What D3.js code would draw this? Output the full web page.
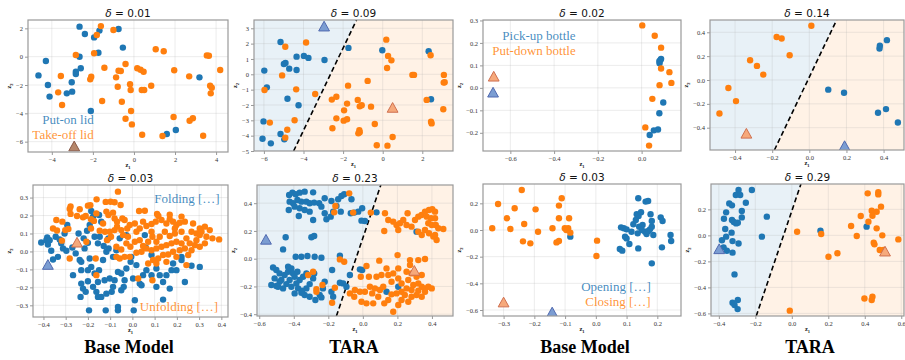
<!DOCTYPE html>
<html><head><meta charset="utf-8">
<script src="https://cdn.jsdelivr.net/npm/d3@7"></script>
<style>body{margin:0;background:#fff}</style>
</head><body><svg id="c" width="905" height="360"></svg>
<script>
// ---------------- DATA ----------------
const deltas = ["0.01", "0.09", "0.02", "0.14", "0.03", "0.23", "0.03", "0.29"];
const captions = ["Base Model", "TARA", "Base Model", "TARA"];

const p1XTicks = [-4, -2, 0, 2, 4];
const p1YTicks = [-6, -4, -2, 0, 2];
const p1Blue = [[-2.65,2.12],[-2.39,1.6],[-1.68,1.84],[-1.94,1.36],[-0.75,1.95],[-0.54,0.64],[-1.73,0.28],[-2.65,0],[-4.29,-0.31],[-2.59,-0.82],[-2.83,-1.06],[-2.83,-1.22],[-4.65,-1.32],[-4.19,-2.0],[-3.03,-1.81],[-4.11,-2.82],[-3.27,-2.59],[-3.01,-2.47],[-2.1,-3.84],[3.19,-1.46],[2.04,-5.18],[1.6,-5.46]];
const p1Orange = [[-1.61,2.16],[-1.81,1.53],[-1.0,1.88],[-2.83,0.12],[-1.94,0.24],[1.06,0.52],[1.45,0.38],[3.55,0.09],[3.65,0.07],[4.2,-0.94],[-0.41,-0.52],[-1.44,-0.78],[-0.75,-0.99],[-0.64,-1.01],[0.16,-0.82],[0.32,-0.92],[0.47,-1.06],[1.96,-0.96],[-3.56,-1.36],[-2.08,-1.41],[-2.13,-1.6],[-0.87,-1.46],[2.69,-1.39],[-0.19,-1.95],[-3.69,-2.52],[-0.79,-2.12],[-0.16,-2.35],[0.38,-2.35],[0.5,-2.35],[0.84,-2.05],[3.71,-2.05],[3.79,-2.19],[3.74,-2.59],[-3.5,-3.41],[-1.55,-3.13],[-0.59,-3.18],[-0.14,-3.84],[-0.41,-4.38],[-0.1,-4.78],[1.93,-4.26],[2.87,-4.35],[2.71,-4.52],[0.4,-5.51],[1.39,-5.6],[3.37,-5.58]];
const p1Protos = [[-2.91,-6.35,"mix"]];

const p2XTicks = [-6, -4, -2, 0, 2];
const p2YTicks = [-5, -4, -3, -2, -1, 0, 1, 2, 3];
const p2Blue = [[-5.16,2.11],[-4.91,0.74],[-4.99,0.67],[-4.72,0.37],[-4.35,1.15],[-3.98,1.2],[-3.75,1.07],[-4.35,0.28],[-2.94,0.93],[-5.98,0.24],[-5.85,-0.85],[-4.81,-1.59],[-4.25,-2.02],[-6.02,-3.07],[-5.16,-3.89],[-6.07,-4.2],[-5.65,-4.5],[-4.97,-4.24],[-1.73,1.72],[-0.02,1.57],[2.32,1.5],[2.44,-1.63]];
const p2Orange = [[-4.92,1.8],[-3.87,2.07],[-5.08,-0.07],[-5.97,-1.02],[-4.37,-0.98],[-5.7,-3.15],[-3.41,-1.28],[-4.45,-3.0],[-4.82,-3.61],[-4.92,-4.13],[0.18,2.26],[0.27,1.2],[0.44,0.91],[0.22,0.41],[-0.76,-0.43],[-1.75,-0.74],[-2.57,-1.65],[-2.34,-1.46],[-1.8,-1.91],[-1.26,-1.67],[-1.16,-2.09],[-1.06,-2.02],[-0.59,-2.11],[-1.95,-2.35],[-2.34,-2.87],[-1.97,-3.02],[-1.8,-2.93],[-2.54,-3.52],[-0.4,-3.24],[-1.18,-3.65],[-1.16,-3.78],[-1.23,-3.85],[-0.3,-4.63],[0.24,-4.65],[0.5,-4.09],[1.5,-0.04],[1.58,-0.04],[2.42,1.24],[2.22,-1.67],[3.09,-0.04],[3.08,-0.54],[3.13,-0.52],[3.06,-2.28],[2.44,-3.09],[2.47,-3.2]];
const p2Protos = [[-2.96,3.1,"blue"],[0.5,-2.2,"orange"]];
const p2Boundary = [[-4.5,-5.0],[-1.32,3.54]];

const p3XTicks = [-0.6, -0.4, -0.2, 0.0];
const p3YTicks = [-0.2, -0.1, 0.0, 0.1, 0.2, 0.3];
const p3Blue = [[0.089,0.129],[0.081,0.119],[0.082,0.109],[0.086,0.124],[0.099,-0.065],[0.081,-0.113],[0.075,-0.185],[0.056,-0.189],[0.037,-0.21]];
const p3Orange = [[0.003,0.278],[0.06,0.232],[0.089,0.179],[0.089,0.086],[0.127,0.07],[0.136,0.022],[0.082,0.012],[0.049,-0.049],[0.017,-0.176],[0.034,-0.257]];
const p3Protos = [[-0.676,0.049,"orange"],[-0.679,-0.022,"blue"]];

const p4XTicks = [-0.4, -0.2, 0.0, 0.2, 0.4];
const p4YTicks = [-0.4, -0.2, 0.0, 0.2, 0.4];
const p4Blue = [[0.418,0.334],[0.38,0.287],[0.378,0.264],[0.102,-0.081],[0.187,-0.107],[0.37,-0.275],[0.413,-0.244],[0.477,-0.357]];
const p4Orange = [[0.011,0.455],[-0.176,0.36],[-0.149,0.348],[-0.106,0.208],[-0.319,0.166],[-0.282,0.118],[-0.248,0.045],[-0.436,-0.067],[-0.395,-0.177],[-0.484,-0.281]];
const p4Protos = [[-0.339,-0.452,"orange"],[0.19,-0.556,"blue"]];
const p4Boundary = [[-0.188,-0.587],[0.147,0.503]];

const p5XTicks = [-0.4, -0.3, -0.2, -0.1, 0.0, 0.1, 0.2, 0.3, 0.4];
const p5YTicks = [-0.3, -0.2, -0.1, 0.0, 0.1, 0.2, 0.3];
const p5Blue = [[-0.41,0.05],[-0.383,0.078],[-0.387,0.063],[-0.372,0.063],[-0.38,0.039],[-0.365,0.004],[-0.345,0.082],[-0.327,0.067],[-0.32,0.045],[-0.357,-0.045],[-0.335,-0.03],[-0.312,0.017],[-0.297,0.004],[-0.293,0.147],[-0.305,0.1],[-0.27,0.022],[-0.267,-0.132],[-0.237,-0.048],[-0.23,-0.058],[-0.23,-0.104],[-0.219,0.073],[-0.215,0.017],[-0.204,0.115],[-0.2,0.048],[-0.192,-0.039],[-0.185,0.225],[-0.177,0.194],[-0.15,0.203],[-0.14,0.166],[-0.192,0.147],[-0.23,-0.179],[-0.222,-0.207],[-0.21,-0.225],[-0.233,-0.253],[-0.195,-0.328],[-0.2,-0.166],[-0.177,-0.197],[-0.162,-0.225],[-0.155,-0.17],[-0.15,-0.104],[-0.132,-0.048],[-0.129,0.03],[-0.117,-0.002],[-0.107,0.017],[-0.117,-0.235],[-0.14,-0.253],[-0.155,-0.253],[-0.12,-0.328],[-0.087,-0.197],[-0.093,-0.225],[-0.072,0.007],[-0.065,-0.114],[-0.05,-0.216],[-0.065,-0.328],[-0.065,-0.309],[-0.039,-0.197],[-0.035,-0.16],[-0.05,-0.123],[-0.027,-0.095],[-0.008,-0.058],[0.003,-0.151],[0.006,-0.328],[0.011,-0.272],[0.033,-0.179],[0.041,-0.188],[0.048,-0.132],[0.063,-0.104],[0.056,0.091],[0.06,0.022],[0.086,-0.02],[0.108,-0.095],[0.123,-0.132],[0.138,-0.17],[0.138,-0.268],[0.168,-0.207],[0.176,-0.104],[0.183,-0.067],[0.198,-0.104],[0.221,-0.03],[0.236,-0.17],[0.266,-0.08],[0.303,-0.086],[0.221,-0.048],[-0.027,0.091],[-0.057,0.073],[-0.155,0.045],[-0.17,0.082],[-0.108,0.073],[-0.087,-0.03],[-0.255,-0.011],[-0.242,0.1],[-0.147,0.082],[-0.185,-0.086],[-0.17,-0.123],[-0.2,-0.104],[-0.102,-0.151],[-0.08,-0.16],[-0.125,-0.16],[-0.005,-0.03],[0.018,-0.076],[0.086,-0.132],[0.108,-0.197],[0.153,-0.132]];
const p5Orange = [[-0.065,0.333],[-0.278,0.25],[-0.282,0.237],[-0.237,0.235],[-0.2,0.255],[-0.189,0.257],[-0.161,0.29],[-0.12,0.276],[-0.098,0.277],[-0.08,0.274],[-0.053,0.259],[0.03,0.225],[0.056,0.227],[0.111,0.209],[0.117,0.197],[-0.342,0.175],[-0.315,0.166],[-0.278,0.209],[-0.249,0.197],[-0.222,0.19],[-0.21,0.197],[-0.186,0.179],[-0.173,0.17],[-0.162,0.212],[-0.117,0.222],[-0.108,0.203],[-0.087,0.216],[-0.08,0.184],[-0.069,0.166],[-0.045,0.184],[-0.035,0.175],[-0.357,0.128],[-0.339,0.117],[-0.302,0.119],[-0.288,0.125],[-0.317,0.06],[-0.282,-0.039],[-0.207,0.054],[-0.165,-0.039],[-0.162,-0.132],[-0.132,0.156],[-0.123,0.11],[-0.114,0.063],[-0.096,0.082],[-0.08,0.119],[-0.069,0.138],[-0.05,0.119],[-0.042,0.091],[-0.023,0.128],[-0.012,0.147],[0.011,0.156],[0.018,0.11],[0.033,0.128],[0.048,0.166],[0.063,0.142],[0.086,0.153],[0.105,0.166],[0.131,0.175],[0.153,0.156],[0.168,0.179],[0.183,0.166],[0.198,0.147],[0.213,0.16],[0.236,0.166],[0.273,0.156],[0.303,0.128],[0.326,0.138],[0.348,0.119],[0.333,0.082],[0.36,0.073],[0.39,0.067],[0.303,0.091],[0.288,0.063],[0.281,0.035],[0.258,0.045],[0.243,0.073],[0.221,0.11],[0.191,0.1],[0.168,0.086],[0.146,0.11],[0.123,0.082],[0.108,0.054],[0.09,0.082],[0.071,0.054],[0.048,0.03],[0.033,0.063],[0.011,0.054],[-0.009,0.026],[-0.027,0.045],[-0.05,0.011],[-0.072,-0.03],[-0.057,-0.039],[-0.035,-0.03],[-0.012,-0.03],[0.018,-0.007],[0.041,-0.002],[0.063,0.017],[0.086,0.007],[0.108,0.017],[0.131,0.026],[0.153,0.035],[0.176,0.045],[0.198,0.054],[0.221,0.045],[0.236,0.017],[0.213,0.007],[0.183,-0.002],[0.161,-0.017],[0.138,-0.02],[0.116,-0.039],[0.093,-0.048],[0.071,-0.067],[0.108,-0.067],[0.153,-0.058],[0.198,-0.03],[0.251,-0.02],[0.266,0.007],[0.303,0.026],[0.326,0.045],[0.243,-0.076],[0.026,-0.151],[0.09,-0.16],[0.266,0.11],[0.288,0.1],[0.311,0.11],[0.221,0.194],[0.168,0.205],[0.191,0.128],[0.086,0.11],[-0.02,0.082],[-0.147,0.115],[-0.186,0.128],[-0.072,0.026],[-0.102,0.11]];
const p5Protos = [[-0.38,-0.076,"blue"],[-0.249,0.048,"orange"]];

const p6XTicks = [-0.6, -0.4, -0.2, 0.0, 0.2, 0.4];
const p6YTicks = [-0.4, -0.2, 0.0, 0.2, 0.4];
const p6Blue = [[-0.427,0.459],[-0.408,0.476],[-0.389,0.464],[-0.366,0.476],[-0.337,0.483],[-0.288,0.478],[-0.424,0.411],[-0.404,0.399],[-0.379,0.423],[-0.356,0.411],[-0.327,0.411],[-0.308,0.399],[-0.282,0.404],[-0.253,0.399],[-0.221,0.435],[-0.182,0.416],[-0.429,0.351],[-0.395,0.375],[-0.366,0.363],[-0.337,0.351],[-0.308,0.339],[-0.371,0.308],[-0.288,0.279],[-0.24,0.375],[-0.221,0.327],[-0.211,0.284],[-0.186,0.303],[-0.172,0.339],[-0.143,0.428],[-0.124,0.452],[-0.108,0.464],[-0.066,0.428],[-0.153,0.38],[-0.128,0.339],[-0.07,0.327],[-0.05,0.332],[-0.027,0.339],[-0.004,0.363],[-0.008,0.274],[0.012,0.272],[0.079,0.334],[0.311,0.195],[-0.447,0.154],[-0.298,0.154],[-0.282,0.163],[-0.462,0.067],[-0.389,0.014],[-0.356,0.014],[-0.321,0.019],[-0.279,0.014],[-0.24,0.007],[-0.133,0.022],[-0.178,-0.082],[-0.017,-0.077],[-0.004,-0.082],[-0.52,-0.063],[-0.501,-0.082],[-0.482,-0.106],[-0.511,-0.142],[-0.53,-0.19],[-0.501,-0.197],[-0.472,-0.154],[-0.453,-0.118],[-0.433,-0.094],[-0.414,-0.07],[-0.404,-0.106],[-0.395,-0.13],[-0.424,-0.154],[-0.443,-0.183],[-0.414,-0.202],[-0.385,-0.178],[-0.366,-0.154],[-0.346,-0.13],[-0.327,-0.106],[-0.375,-0.214],[-0.395,-0.25],[-0.356,-0.245],[-0.327,-0.214],[-0.308,-0.183],[-0.288,-0.142],[-0.282,-0.106],[-0.25,-0.262],[-0.231,-0.214],[-0.221,-0.166],[-0.24,-0.279],[-0.275,-0.298],[-0.308,-0.274],[-0.337,-0.262],[-0.352,-0.231],[-0.462,-0.214],[-0.482,-0.166],[-0.491,-0.202],[-0.182,-0.238],[-0.172,-0.274],[-0.114,-0.178],[-0.133,-0.173],[-0.095,-0.202],[-0.075,-0.118],[0.137,-0.238],[0.205,-0.202],[-0.379,-0.094],[-0.433,-0.058]];
const p6Orange = [[-0.079,0.471],[-0.159,0.38],[-0.056,0.332],[0.046,0.332],[-0.166,0.334],[-0.269,-0.219],[-0.269,-0.238],[-0.317,-0.118],[-0.288,-0.094],[-0.234,-0.19],[-0.133,-0.005],[-0.108,-0.022],[-0.162,-0.209],[-0.178,-0.317],[0.128,0.327],[0.147,0.279],[0.176,0.267],[0.195,0.243],[0.215,0.255],[0.234,0.279],[0.259,0.327],[0.253,0.243],[0.282,0.231],[0.302,0.279],[0.321,0.303],[0.34,0.315],[0.36,0.339],[0.383,0.351],[0.402,0.356],[0.418,0.339],[0.37,0.303],[0.395,0.291],[0.418,0.291],[0.379,0.255],[0.399,0.243],[0.422,0.243],[0.437,0.219],[0.466,0.214],[0.36,0.207],[0.383,0.183],[0.408,0.159],[0.427,0.135],[0.341,0.171],[0.321,0.195],[0.124,0.2],[0.205,0.207],[0.418,0.171],[0.095,-0.014],[0.201,0.026],[0.273,-0.01],[0.321,-0.01],[0.36,-0.002],[0.273,-0.046],[0.021,-0.053],[-0.012,-0.13],[0.035,-0.13],[0.079,-0.13],[0.108,-0.118],[0.147,-0.118],[0.137,-0.07],[0.205,-0.07],[0.253,-0.094],[0.282,-0.106],[0.311,-0.13],[0.341,-0.118],[0.166,-0.166],[0.224,-0.178],[0.263,-0.154],[0.292,-0.19],[0.321,-0.178],[0.341,-0.202],[0.36,-0.214],[0.379,-0.202],[0.399,-0.214],[0.36,-0.238],[0.321,-0.231],[0.282,-0.226],[0.253,-0.214],[0.224,-0.238],[0.195,-0.25],[0.166,-0.257],[0.243,-0.262],[0.282,-0.274],[0.311,-0.262],[0.341,-0.274],[0.263,-0.31],[0.224,-0.298],[0.205,-0.334],[0.176,-0.382],[0.147,-0.298],[0.124,-0.322],[0.089,-0.274],[0.054,-0.25],[0.012,-0.238],[-0.017,-0.238],[-0.046,-0.226],[-0.075,-0.25],[-0.05,-0.274],[-0.008,-0.31],[0.021,-0.322],[0.06,-0.322],[0.099,-0.226],[0.118,-0.202],[0.07,-0.214],[0.041,-0.202],[0.205,-0.142],[0.176,-0.106]];
const p6Protos = [[-0.561,0.135,"blue"],[0.298,-0.089,"orange"]];
const p6Boundary = [[-0.153,-0.413],[0.104,0.531]];

const p7XTicks = [-0.3, -0.2, -0.1, 0.0, 0.1, 0.2];
const p7YTicks = [-0.6, -0.4, -0.2, 0.0, 0.2];
const p7Blue = [[-0.083,-0.05],[0.082,0.02],[0.091,0.013],[0.1,0.005],[0.095,-0.05],[0.1,-0.063],[0.078,-0.143],[0.086,-0.155],[0.109,-0.105],[0.116,-0.013],[0.122,0.043],[0.133,0.118],[0.139,0.105],[0.147,0.133],[0.138,0.238],[0.162,0.213],[0.17,0.218],[0.136,-0.025],[0.138,-0.138],[0.141,0.025],[0.152,0.038],[0.16,-0.013],[0.165,-0.03],[0.171,-0.008],[0.176,0.005],[0.182,0.025],[0.182,0.068],[0.178,0.118],[0.182,-0.25],[0.187,-0.038],[0.211,0.095],[0.217,0.068],[0.215,-0.13],[0.243,-0.038],[0.245,-0.083],[0.149,0.0],[0.13,0.075]];
const p7Orange = [[-0.241,0.3],[-0.318,0.195],[-0.264,0.163],[-0.289,0.088],[-0.278,0.008],[-0.337,0.013],[-0.233,0.045],[-0.237,-0.085],[-0.213,-0.1],[-0.188,-0.013],[-0.196,0.155],[-0.111,0.238],[-0.12,0.183],[-0.12,0.088],[-0.141,0.013],[-0.087,0.088],[-0.101,0.013],[-0.096,0.0],[-0.09,0.013],[-0.083,-0.02],[-0.128,-0.093],[-0.12,-0.083],[0.004,-0.08],[0.002,-0.195]];
const p7Protos = [[-0.3,-0.545,"orange"],[-0.142,-0.62,"blue"]];

const p8XTicks = [-0.4, -0.2, 0.0, 0.2, 0.4, 0.6];
const p8YTicks = [-0.6, -0.4, -0.2, 0.0, 0.2];
const p8Blue = [[-0.292,0.349],[-0.307,0.31],[-0.283,0.31],[-0.219,0.349],[-0.252,0.251],[-0.343,0.246],[-0.328,0.231],[-0.274,0.187],[-0.36,0.177],[-0.372,0.128],[-0.328,0.118],[-0.318,0.103],[-0.305,0.092],[-0.296,0.097],[-0.274,0.138],[-0.365,0.049],[-0.33,0.021],[-0.36,-0.01],[-0.383,-0.038],[-0.325,-0.044],[-0.292,-0.062],[-0.374,-0.092],[-0.356,-0.118],[-0.325,-0.133],[-0.314,-0.3],[-0.325,-0.518],[-0.314,-0.536],[-0.297,-0.567],[-0.296,-0.497],[-0.164,-0.01],[-0.137,0.144],[0.157,0.036],[0.41,0.067]];
const p8Orange = [[0.416,0.323],[0.474,0.331],[0.474,0.315],[0.489,0.221],[0.438,0.19],[0.465,0.182],[0.378,0.149],[0.42,0.105],[0.442,0.151],[0.325,0.072],[0.029,0.028],[0.161,0.01],[0.356,-0.005],[0.465,0.054],[0.496,0.0],[0.584,-0.031],[0.449,-0.056],[0.453,-0.069],[0.482,-0.113],[0.502,-0.113],[0.201,-0.164],[0.25,-0.138],[0.398,-0.485],[0.442,-0.472],[0.438,-0.497],[-0.011,-0.579]];
const p8Protos = [[-0.398,-0.108,"blue"],[0.511,-0.126,"orange"]];
const p8Boundary = [[-0.195,-0.62],[0.05,0.395]];

// ---------------- LAYOUT ----------------
const BLUE = "#1f77b4", ORANGE = "#ff7f0e";
const protoStyle = {
  blue: {fill: "#7b9dd2", stroke: "#5069b0"},
  orange: {fill: "#f6a97b", stroke: "#cf7050"},
  mix: {fill: "#b5866a", stroke: "#8a5a48"}
};
const intFmt = d3.format("d"), decFmt = d3.format(".1f");
const panels = [
  {box:[28,228,20,152], xd:[-5.16,4.58], yd:[-6.73,2.59], xt:p1XTicks, yt:p1YTicks, fmt:intFmt, blue:p1Blue, orange:p1Orange, protos:p1Protos, boundary:null,
   labels:[["Put-on lid",68,124,BLUE],["Take-off lid",63,139,ORANGE]]},
  {box:[254,453,20,151], xd:[-6.5,3.55], yd:[-5.0,3.54], xt:p2XTicks, yt:p2YTicks, fmt:intFmt, blue:p2Blue, orange:p2Orange, protos:p2Protos, boundary:p2Boundary, labels:[]},
  {box:[483,681,20,151], xd:[-0.725,0.18], yd:[-0.281,0.302], xt:p3XTicks, yt:p3YTicks, fmt:decFmt, blue:p3Blue, orange:p3Orange, protos:p3Protos, boundary:null,
   labels:[["Pick-up bottle",539,40,BLUE],["Put-down bottle",534,55,ORANGE]]},
  {box:[710,904,20,150], xd:[-0.535,0.51], yd:[-0.587,0.503], xt:p4XTicks, yt:p4YTicks, fmt:decFmt, blue:p4Blue, orange:p4Orange, protos:p4Protos, boundary:p4Boundary, labels:[]},
  {box:[33,228,185,317], xd:[-0.447,0.43], yd:[-0.365,0.37], xt:p5XTicks, yt:p5YTicks, fmt:decFmt, blue:p5Blue, orange:p5Orange, protos:p5Protos, boundary:null,
   labels:[["Folding […]",187,203,BLUE],["Unfolding […]",179,311,ORANGE]]},
  {box:[257,453,185,316], xd:[-0.613,0.522], yd:[-0.413,0.531], xt:p6XTicks, yt:p6YTicks, fmt:decFmt, blue:p6Blue, orange:p6Orange, protos:p6Protos, boundary:p6Boundary, labels:[]},
  {box:[483,681,184,316], xd:[-0.367,0.277], yd:[-0.645,0.345], xt:p7XTicks, yt:p7YTicks, fmt:decFmt, blue:p7Blue, orange:p7Orange, protos:p7Protos, boundary:null,
   labels:[["Opening […]",616,291,BLUE],["Closing […]",618,306,ORANGE]]},
  {box:[711,904,184,316], xd:[-0.443,0.615], yd:[-0.62,0.395], xt:p8XTicks, yt:p8YTicks, fmt:decFmt, blue:p8Blue, orange:p8Orange, protos:p8Protos, boundary:p8Boundary, labels:[]}
];
const captionX = [129, 354, 585, 810];

const svg = d3.select("#c");
const defs = svg.append("defs");
const minus = s => s.replace(/-/g, "\u2212");
const tri = "M0,-5.5L5.4,4.2L-5.4,4.2Z";
const SERIF = "'Liberation Serif','Times New Roman',serif";

panels.forEach((p, i) => {
  const [L, R, T, B] = p.box;
  const x = d3.scaleLinear().domain(p.xd).range([L, R]);
  const y = d3.scaleLinear().domain(p.yd).range([B, T]);
  const g = svg.append("g");
  defs.append("clipPath").attr("id", "cp" + i).append("rect")
    .attr("x", L).attr("y", T).attr("width", R - L).attr("height", B - T);
  const plot = g.append("g").attr("clip-path", `url(#cp${i})`);
  const line = d3.line().x(d => x(d[0])).y(d => y(d[1]));

  let bx = null;
  if (p.boundary) {
    const [[x1, y1], [x2, y2]] = p.boundary;
    bx = yy => x1 + (yy - y1) * (x2 - x1) / (y2 - y1);
    const [y0, yN] = p.yd;
    const left = [[p.xd[0], y0], [bx(y0), y0], [bx(yN), yN], [p.xd[0], yN]];
    const right = [[bx(y0), y0], [p.xd[1], y0], [p.xd[1], yN], [bx(yN), yN]];
    plot.append("path").attr("d", line(left) + "Z").attr("fill", BLUE).attr("fill-opacity", 0.1);
    plot.append("path").attr("d", line(right) + "Z").attr("fill", ORANGE).attr("fill-opacity", 0.1);
  }
  // grid
  plot.selectAll(".gx").data(p.xt).join("line")
    .attr("x1", d => x(d)).attr("x2", d => x(d)).attr("y1", T).attr("y2", B)
    .attr("stroke", "#b0b0b0").attr("stroke-opacity", 0.3).attr("stroke-width", 0.8);
  plot.selectAll(".gy").data(p.yt).join("line")
    .attr("y1", d => y(d)).attr("y2", d => y(d)).attr("x1", L).attr("x2", R)
    .attr("stroke", "#b0b0b0").attr("stroke-opacity", 0.3).attr("stroke-width", 0.8);

  if (p.boundary) {
    plot.append("path").attr("d", line(p.boundary)).attr("fill", "none")
      .attr("stroke", "#000").attr("stroke-width", 1.6).attr("stroke-dasharray", "5,3");
  }
  plot.append("g").selectAll("circle").data(p.blue).join("circle")
    .attr("cx", d => x(d[0])).attr("cy", d => y(d[1])).attr("r", 3.2).attr("fill", BLUE);
  plot.append("g").selectAll("circle").data(p.orange).join("circle")
    .attr("cx", d => x(d[0])).attr("cy", d => y(d[1])).attr("r", 3.2).attr("fill", ORANGE);
  plot.append("g").selectAll("path").data(p.protos).join("path")
    .attr("d", tri).attr("transform", d => `translate(${x(d[0])},${y(d[1])})`)
    .attr("fill", d => protoStyle[d[2]].fill).attr("stroke", d => protoStyle[d[2]].stroke).attr("stroke-width", 1);

  // axes
  const ax = g.append("g").attr("transform", `translate(0,${B})`)
    .call(d3.axisBottom(x).tickValues(p.xt).tickSize(3).tickPadding(2).tickFormat(d => minus(p.fmt(d))));
  const ay = g.append("g").attr("transform", `translate(${L},0)`)
    .call(d3.axisLeft(y).tickValues(p.yt).tickSize(3).tickPadding(2).tickFormat(d => minus(p.fmt(d))));
  [ax, ay].forEach(a => {
    a.select(".domain").remove();
    a.selectAll("line").attr("stroke", "#999");
    a.selectAll("text").attr("font-family", SERIF).attr("font-size", 6.5).attr("fill", "#333");
  });
  // frame
  g.append("rect").attr("x", L).attr("y", T).attr("width", R - L).attr("height", B - T)
    .attr("fill", "none").attr("stroke", "#999").attr("stroke-width", 1.2);

  // title
  const t = g.append("text").attr("x", (L + R) / 2).attr("y", T - 3).attr("text-anchor", "middle")
    .attr("font-family", "'DejaVu Sans',sans-serif").attr("font-size", 10.5).attr("fill", "#111");
  t.append("tspan").attr("font-style", "italic").text("δ");
  t.append("tspan").text(" = " + deltas[i]);

  // axis labels
  const xl = g.append("text").attr("x", (L + R) / 2).attr("y", B + 15).attr("text-anchor", "middle")
    .attr("font-family", SERIF).attr("font-weight", "bold").attr("font-size", 6.5).attr("fill", "#222");
  xl.append("tspan").text("z");
  xl.append("tspan").attr("font-size", 4.5).attr("dy", 1.5).text("1");
  const yoff = p.fmt === intFmt ? 17 : 22;
  const yl = g.append("text").attr("transform", `translate(${L - yoff},${(T + B) / 2}) rotate(-90)`)
    .attr("text-anchor", "middle").attr("font-family", SERIF).attr("font-weight", "bold")
    .attr("font-size", 6.5).attr("fill", "#222");
  yl.append("tspan").text("z");
  yl.append("tspan").attr("font-size", 4.5).attr("dy", 1.5).text("2");

  // annotations
  g.selectAll(".lab").data(p.labels).join("text")
    .attr("x", d => d[1]).attr("y", d => d[2]).attr("text-anchor", "middle")
    .attr("font-family", SERIF).attr("font-size", 13).attr("fill", d => d[3]).attr("fill-opacity", 0.85)
    .text(d => d[0]);
});

svg.selectAll(".cap").data(captions).join("text")
  .attr("x", (d, i) => captionX[i]).attr("y", 353).attr("text-anchor", "middle")
  .attr("font-family", SERIF).attr("font-weight", "bold").attr("font-size", 18).attr("fill", "#000")
  .text(d => d);
</script></body></html>
